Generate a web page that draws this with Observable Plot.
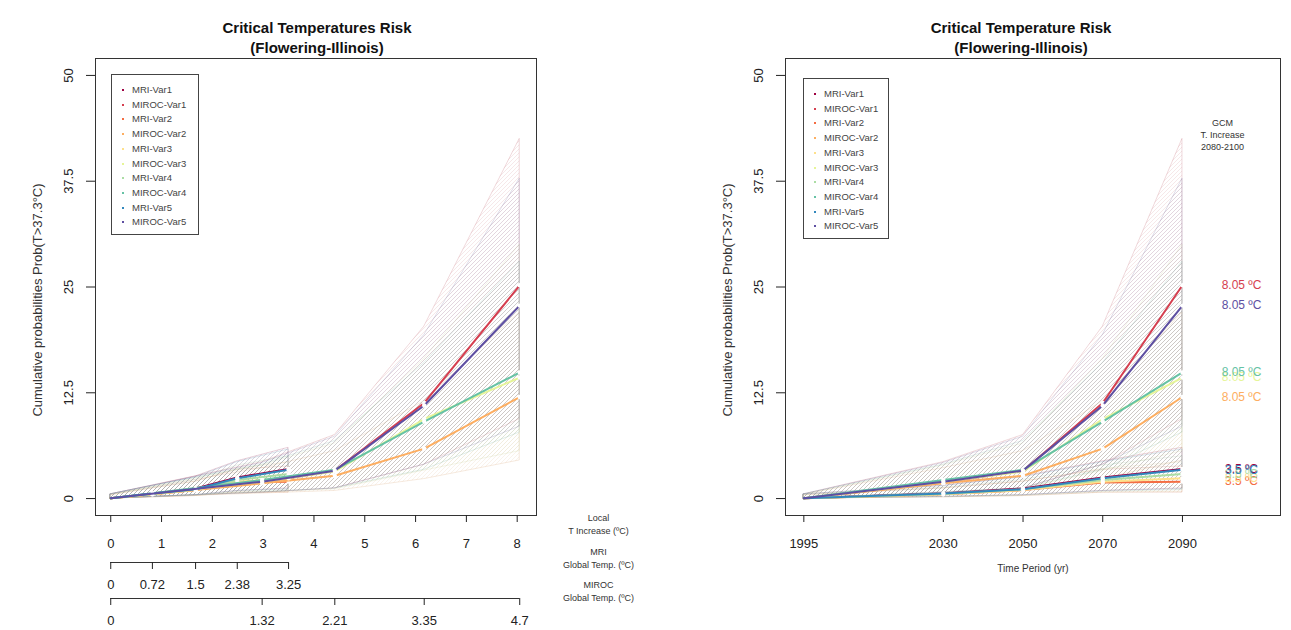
<!DOCTYPE html>
<html><head><meta charset="utf-8">
<script src="https://cdn.jsdelivr.net/npm/d3@7"></script>
<script src="https://cdn.jsdelivr.net/npm/@observablehq/plot@0.6"></script>
<style>
body{margin:0;background:#fff;font-family:"Liberation Sans",Arial,sans-serif;}
#wrap{position:relative;width:1291px;height:630px;overflow:hidden;background:#fff;}
.panel{position:absolute;top:0;}
.legend{position:absolute;border:1px solid #444;background:#fff;font-size:9.5px;color:#444;box-sizing:border-box;}
.legend .row{position:absolute;left:0;height:14px;line-height:14px;white-space:nowrap;}
.legend .dot{position:absolute;width:2px;height:2px;}
</style></head><body>
<svg width="0" height="0" style="position:absolute"><defs id="patdefs"></defs></svg>
<div id="wrap"></div>
<script>
// ---------------- data ----------------
const years = [1995, 2030, 2050, 2070, 2090];
const mriLocalT = [0, 0.82, 1.67, 2.49, 3.5];
const mirocLocalT = [0, 2.98, 4.41, 6.17, 8.05];
const localTicks = [0, 1, 2, 3, 4, 5, 6, 7, 8];
const mriGlobalLabels = ["0", "0.72", "1.5", "2.38", "3.25"];
const mirocGlobalLabels = ["0", "1.32", "2.21", "3.35", "4.7"];
const yTicks = [0, 12.5, 25, 37.5, 50];
const seriesNames = ["MRI-Var1", "MIROC-Var1", "MRI-Var2", "MIROC-Var2", "MRI-Var3",
                     "MIROC-Var3", "MRI-Var4", "MIROC-Var4", "MRI-Var5", "MIROC-Var5"];
const seriesColors = ["#9E0142", "#D53E4F", "#F46D43", "#FDAE61", "#FEE08B",
                      "#E6F598", "#ABDDA4", "#66C2A5", "#3288BD", "#5E4FA2"];
const endLabels = ["3.5 ºC", "8.05 ºC", "3.5 ºC", "8.05 ºC", "3.5 ºC",
                   "8.05 ºC", "3.5 ºC", "8.05 ºC", "3.5 ºC", "8.05 ºC"];
// mean cumulative probability at 1995, 2030, 2050, 2070, 2090
const meanValues = [
  [0.05, 0.6, 1.2, 2.5, 3.5],
  [0.05, 1.9, 3.3, 11.3, 25.2],
  [0.05, 0.5, 1.0, 1.9, 2.0],
  [0.05, 1.8, 2.7, 5.9, 12.0],
  [0.05, 0.5, 1.0, 2.0, 2.4],
  [0.05, 2.0, 3.2, 9.4, 14.3],
  [0.05, 0.55, 1.1, 2.2, 2.9],
  [0.05, 2.2, 3.4, 9.1, 14.9],
  [0.05, 0.6, 1.1, 2.4, 3.4],
  [0.05, 2.0, 3.3, 11.0, 22.8]
];
const lowValues = [
  [0, 0.2, 0.4, 0.9, 1.2],
  [0, 0.7, 1.2, 4.0, 9.4],
  [0, 0.15, 0.3, 0.7, 0.7],
  [0, 0.6, 0.9, 2.3, 4.5],
  [0, 0.15, 0.3, 0.7, 0.8],
  [0, 0.7, 1.1, 3.3, 5.6],
  [0, 0.18, 0.35, 0.8, 1.0],
  [0, 0.75, 1.2, 3.4, 7.8],
  [0, 0.2, 0.4, 0.9, 1.1],
  [0, 0.7, 1.2, 4.0, 8.5]
];
const highValues = [
  [0.5, 1.5, 2.6, 4.4, 6.0],
  [0.5, 4.3, 7.5, 20.3, 42.5],
  [0.4, 1.2, 2.0, 3.4, 3.8],
  [0.45, 3.6, 5.6, 11.5, 22.0],
  [0.4, 1.2, 2.0, 3.5, 4.3],
  [0.45, 3.9, 6.5, 16.5, 30.0],
  [0.45, 1.3, 2.2, 3.9, 5.0],
  [0.5, 4.0, 6.8, 16.0, 28.0],
  [0.5, 1.5, 2.5, 4.3, 5.8],
  [0.5, 4.2, 7.3, 19.3, 37.8]
];

// ---------------- helpers ----------------
const FONT = '"Liberation Sans", Arial, Helvetica, sans-serif';
const isMRI = i => seriesNames[i].startsWith("MRI");
const hatchColors = seriesColors.map(c => d3.interpolateRgb(c, "#b4b0b4")(0.45));
document.getElementById("patdefs").innerHTML = seriesColors.map((c, i) =>
  `<pattern id="hatch${i}" patternUnits="userSpaceOnUse" width="4" height="4">` +
  `<path d="M-1,1 l2,-2 M0,4 l4,-4 M3,5 l2,-2" stroke="${hatchColors[i]}" stroke-width="0.55" stroke-opacity="0.3" fill="none"/></pattern>`
).join("");

function rowsFor(i, xs) {
  return xs.map((x, j) => ({x, mean: meanValues[i][j], lo: lowValues[i][j], hi: highValues[i][j]}));
}

function seriesMarks(xsFor) {
  const marks = [];
  seriesNames.forEach((n, i) => {
    marks.push(Plot.areaY(rowsFor(i, xsFor(i)), {x: "x", y1: "lo", y2: "hi",
      fill: `url(#hatch${i})`, stroke: hatchColors[i], strokeWidth: 0.6, strokeOpacity: 0.45}));
  });
  seriesNames.forEach((n, i) => {
    const r = rowsFor(i, xsFor(i));
    marks.push(Plot.line(r, {x: "x", y: "mean", stroke: seriesColors[i], strokeWidth: 2}));
    marks.push(Plot.dot(r.slice(1), {x: "x", y: "mean", r: 2.2, fill: "white"}));
  });
  return marks;
}

function yAxisMarks() {
  return [
    Plot.axisY(yTicks, {anchor: "left", tickSize: 9, tickFormat: () => "", label: null}),
    Plot.text(yTicks, {y: d => d, text: d => String(d), frameAnchor: "left", dx: -27,
      rotate: -90, textAnchor: "middle", fontSize: 13, fill: "#222"}),
    Plot.text(["Cumulative probabilities Prob(T>37.3°C)"], {frameAnchor: "left", dx: -58, dy: 13,
      rotate: -90, textAnchor: "middle", fontSize: 13, fill: "#333"})
  ];
}

function titleMark(t, dx) {
  return Plot.text([t], {frameAnchor: "top", dx, dy: -40, lineAnchor: "top", fontSize: 15,
    fontWeight: "bold", lineHeight: 1.33, fill: "#111"});
}

const commonY = {domain: [-2, 52]};
const style = {fontFamily: FONT, color: "#222", background: "white", overflow: "visible"};

// ---------------- left panel ----------------
const left = Plot.plot({
  width: 645, height: 630,
  marginLeft: 95, marginRight: 109, marginTop: 58, marginBottom: 115,
  x: {domain: [-0.3, 8.38]},
  y: commonY,
  style,
  marks: [
    ...seriesMarks(i => isMRI(i) ? mriLocalT : mirocLocalT),
    Plot.frame({stroke: "#333"}),
    ...yAxisMarks(),
    Plot.axisX(localTicks, {anchor: "bottom", tickSize: 7, tickPadding: 16, fontSize: 13,
      tickFormat: d => String(d), label: null}),
    Plot.ruleY([-2], {x1: mriLocalT[0], x2: mriLocalT[mriLocalT.length - 1], dy: 47, stroke: "#333"}),
    Plot.axisX(mriLocalT, {anchor: "bottom", dy: 47, tickSize: 7, tickPadding: 10, fontSize: 13,
      tickFormat: (d, i) => mriGlobalLabels[i], label: null}),
    Plot.ruleY([-2], {x1: mirocLocalT[0], x2: mirocLocalT[mirocLocalT.length - 1], dy: 83, stroke: "#333"}),
    Plot.axisX(mirocLocalT, {anchor: "bottom", dy: 83, tickSize: 7, tickPadding: 10, fontSize: 13,
      tickFormat: (d, i) => mirocGlobalLabels[i], label: null}),
    Plot.text(["Local\nT Increase (ºC)"], {frameAnchor: "bottom-right", dx: 62, dy: 18.5,
      textAnchor: "middle", fontSize: 9, lineHeight: 1.45, fill: "#333"}),
    Plot.text(["MRI\nGlobal Temp. (ºC)"], {frameAnchor: "bottom-right", dx: 62, dy: 52.5,
      textAnchor: "middle", fontSize: 9, lineHeight: 1.45, fill: "#333"}),
    Plot.text(["MIROC\nGlobal Temp. (ºC)"], {frameAnchor: "bottom-right", dx: 62, dy: 85.5,
      textAnchor: "middle", fontSize: 9, lineHeight: 1.45, fill: "#333"}),
    titleMark("Critical Temperatures Risk\n(Flowering-Illinois)", 1)
  ]
});

// ---------------- right panel ----------------
const endLabelMarks = seriesNames.map((n, i) =>
  Plot.text([endLabels[i]], {y: meanValues[i][meanValues[i].length - 1], frameAnchor: "right", dx: -39,
    textAnchor: "middle", fontSize: 12, fill: seriesColors[i]}));

const right = Plot.plot({
  width: 646, height: 630,
  marginLeft: 140, marginRight: 11, marginTop: 58, marginBottom: 115,
  x: {domain: [1990.4, 2114.6]},
  y: commonY,
  style,
  marks: [
    ...seriesMarks(() => years),
    Plot.frame({stroke: "#333"}),
    ...yAxisMarks(),
    Plot.axisX(years, {anchor: "bottom", tickSize: 7, tickPadding: 16, fontSize: 13,
      tickFormat: d => String(d), label: null}),
    Plot.text(["Time Period (yr)"], {frameAnchor: "bottom", dy: 56, fontSize: 10, fill: "#333"}),
    Plot.text(["GCM\nT. Increase\n2080-2100"], {frameAnchor: "top-right", dx: -58, dy: 59,
      textAnchor: "middle", lineAnchor: "top", fontSize: 9, lineHeight: 1.33, fill: "#333"}),
    ...endLabelMarks,
    titleMark("Critical Temperature Risk\n(Flowering-Illinois)", -12)
  ]
});

const wrap = document.getElementById("wrap");
[[left, 0], [right, 645]].forEach(([svg, x]) => {
  svg.classList.add("panel");
  svg.style.left = x + "px";
  wrap.appendChild(svg);
});

// ---------------- legends ----------------
function legend(x, y, w, h) {
  const box = document.createElement("div");
  box.className = "legend";
  Object.assign(box.style, {left: x + "px", top: y + "px", width: w + "px", height: h + "px"});
  seriesNames.forEach((n, i) => {
    const row = document.createElement("div");
    row.className = "row";
    row.style.top = (8 + i * 14.7) + "px";
    row.style.width = "100%";
    const dot = document.createElement("span");
    dot.className = "dot";
    Object.assign(dot.style, {left: "10px", top: "6px", background: seriesColors[i]});
    const txt = document.createElement("span");
    txt.textContent = n;
    txt.style.position = "absolute";
    txt.style.left = "20px";
    row.appendChild(dot); row.appendChild(txt);
    box.appendChild(row);
  });
  wrap.appendChild(box);
}
legend(111, 74, 88, 161);
legend(803, 78, 86, 161);
</script>
</body></html>
